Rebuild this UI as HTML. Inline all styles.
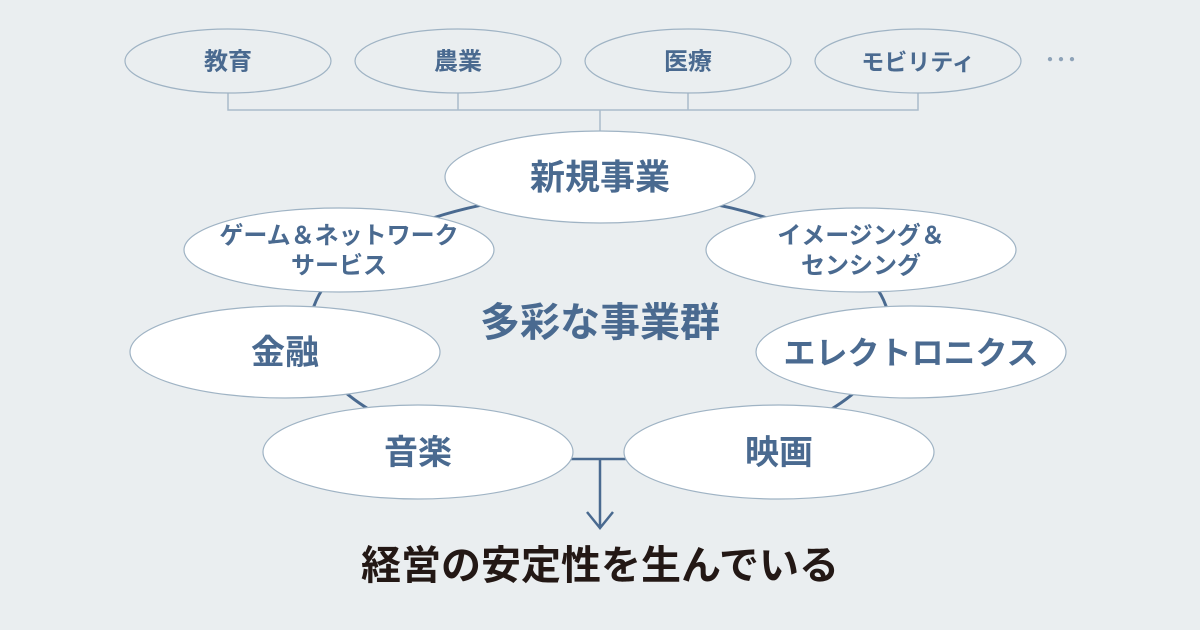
<!DOCTYPE html>
<html><head><meta charset="utf-8"><style>
html,body{margin:0;padding:0;background:#eaeef0;}
svg{display:block}
text{font-family:"Liberation Sans","Noto Sans CJK JP",sans-serif;font-weight:bold;text-anchor:middle;dominant-baseline:central;fill:#4a6a90}
</style></head><body>
<svg width="1200" height="630" viewBox="0 0 1200 630" xmlns="http://www.w3.org/2000/svg">
<rect width="1200" height="630" fill="#eaeef0"/>
<g stroke="#a9bccb" stroke-width="1.5" fill="none">
<path d="M228 93V110H918V93M458 93V110M688 93V110M600 110V132"/>
</g>
<g fill="#eaeef0" stroke="#9fb3c4" stroke-width="1.2">
<ellipse cx="228" cy="61" rx="103" ry="32"/>
<ellipse cx="458" cy="61" rx="103" ry="32"/>
<ellipse cx="688" cy="61" rx="103" ry="32"/>
<ellipse cx="918" cy="61" rx="103" ry="32"/>
</g>
<text x="228" y="62" font-size="24">教育</text>
<text x="458" y="62" font-size="24">農業</text>
<text x="688" y="62" font-size="24">医療</text>
<text x="918" y="62" font-size="23">モビリティ</text>
<text x="1061" y="60" font-size="22" style="fill:#8ea3b8">･･･</text>
<path d="M 314 306 A 290 135 0 0 1 886 306" stroke="#4a6a90" stroke-width="3" fill="none"/>
<path d="M 314 306 A 290 135 0 0 0 370 410 M 886 306 A 290 135 0 0 1 830 410" stroke="#4a6a90" stroke-width="3" fill="none"/>
<g stroke="#4a6a90" stroke-width="2.5" fill="none">
<path d="M570 459H626M600 459V527M587 512L600 528L613 512"/>
</g>
<g fill="#fff" stroke="#9fb3c4" stroke-width="1.2">
<ellipse cx="600" cy="177" rx="155" ry="46"/>
<ellipse cx="339" cy="250" rx="155" ry="42"/>
<ellipse cx="861" cy="250" rx="155" ry="42"/>
<ellipse cx="285" cy="352" rx="155" ry="46"/>
<ellipse cx="911" cy="352" rx="155" ry="46"/>
<ellipse cx="418" cy="452" rx="155" ry="47"/>
<ellipse cx="779" cy="452" rx="155" ry="47"/>
</g>
<text x="600" y="178" font-size="35">新規事業</text>
<text x="339" y="236" font-size="24">ゲーム＆ネットワーク</text>
<text x="339" y="266" font-size="24">サービス</text>
<text x="861" y="236" font-size="24">イメージング＆</text>
<text x="861" y="266" font-size="24">センシング</text>
<text x="285" y="353" font-size="34">金融</text>
<text x="911" y="353" font-size="32">エレクトロニクス</text>
<text x="418" y="453" font-size="34">音楽</text>
<text x="779" y="453" font-size="34">映画</text>
<text x="600" y="323" font-size="40">多彩な事業群</text>
<text x="600" y="566" font-size="40" style="fill:#231815">経営の安定性を生んでいる</text>
</svg>
</body></html>
